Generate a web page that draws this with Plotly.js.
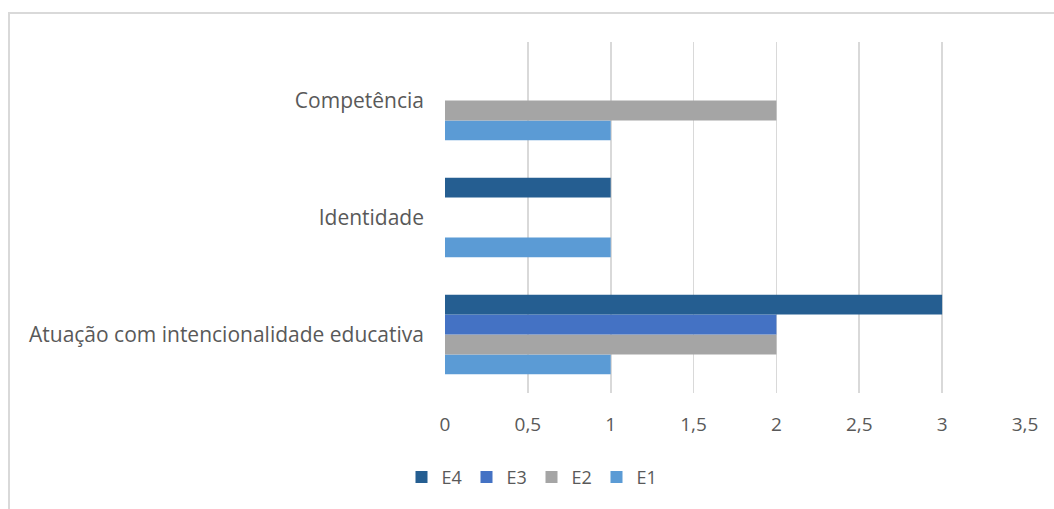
<!DOCTYPE html>
<html>
<head>
<meta charset="utf-8">
<script src="https://cdn.plot.ly/plotly-3.0.1.min.js"></script>
<style>
  body { margin: 0; background: #fff; }
  #myDiv { width: 1054px; height: 509px; }
</style>
</head>
<body>
<div id="myDiv"></div>
<script>
var categories = ['Atuação com intencionalidade educativa', 'Identidade', 'Competência'];
var e1 = [1, 1, 1];
var e2 = [2, 0, 2];
var e3 = [2, 0, 0];
var e4 = [3, 1, 0];
var xTicks = [0, 0.5, 1, 1.5, 2, 2.5, 3, 3.5];
var xTickText = ['0', '0,5', '1', '1,5', '2', '2,5', '3', '3,5'];

function bar(name, values, color) {
    return {
        type: 'bar',
        orientation: 'h',
        name: name,
        y: categories,
        x: values,
        marker: {color: color, line: {width: 0}},
        hoverinfo: 'x+name'
    };
}

var data = [
    bar('E1', e1, '#5B9BD5'),
    bar('E2', e2, '#A5A5A5'),
    bar('E3', e3, '#4472C4'),
    bar('E4', e4, '#255E91')
];

var layout = {
    width: 1054,
    height: 509,
    margin: {l: 445, r: 29, t: 42, b: 116},
    font: {family: '"Open Sans", sans-serif', size: 21, color: '#595959'},
    barmode: 'group',
    bargap: 0.32,
    bargroupgap: 0,
    showlegend: true,
    legend: {
        orientation: 'h',
        traceorder: 'reversed',
        x: -0.075, xanchor: 'left',
        y: -0.24, yanchor: 'middle',
        font: {size: 18, color: '#595959'},
        itemwidth: 30,
        entrywidth: 20
    },
    xaxis: {
        range: [0, 3.5],
        tickvals: xTicks,
        ticktext: xTickText,
        tickfont: {size: 19},
        showgrid: true,
        gridcolor: '#d9d9d9',
        gridwidth: 1.8,
        zeroline: false,
        showline: false,
        ticks: '',
        ticklabelstandoff: 18,
        fixedrange: true
    },
    yaxis: {
        type: 'category',
        tickfont: {size: 21},
        showgrid: false,
        zeroline: false,
        showline: false,
        ticks: '',
        ticklabelstandoff: 20,
        fixedrange: true
    },
    shapes: [{
        type: 'rect', xref: 'paper', yref: 'paper',
        x0: (9 - 445) / 580, x1: (1060 - 445) / 580,
        y0: (393 - 520) / 351, y1: (393 - 13) / 351,
        line: {color: '#d9d9d9', width: 2},
        fillcolor: 'rgba(0,0,0,0)',
        layer: 'below'
    }],
    plot_bgcolor: '#fff',
    paper_bgcolor: '#fff'
};

Plotly.newPlot('myDiv', data, layout, {displayModeBar: false, staticPlot: true});
</script>
</body>
</html>
